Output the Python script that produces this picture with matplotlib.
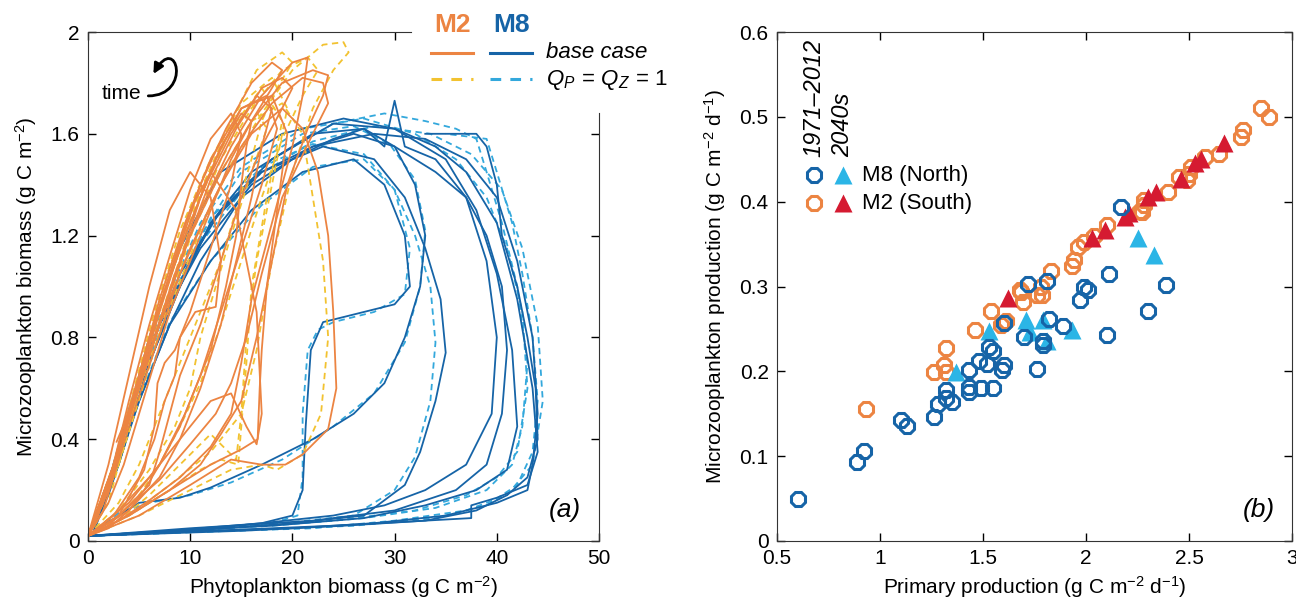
import matplotlib
matplotlib.use("Agg")
import matplotlib.pyplot as plt
from matplotlib.lines import Line2D
from matplotlib.patches import FancyArrowPatch
from matplotlib.path import Path

plt.rcParams['font.family'] = ['Liberation Sans', 'DejaVu Sans']
plt.rcParams['mathtext.fontset'] = 'custom'
plt.rcParams['mathtext.rm'] = 'Liberation Sans'
plt.rcParams['mathtext.it'] = 'Liberation Sans:italic'

# ---- panel (a): phyto vs microzoo biomass trajectories (one list per year) ----
m8_base_x = [
    [0, 5, 12, 20, 28, 35, 40, 43, 43.5, 44, 43.5, 42, 40, 37, 33, 28, 22, 16, 11, 7, 4, 1.5, 0],
    [0, 8, 18, 27, 33, 38, 41, 42, 41.5, 40, 38, 35, 30, 24, 18, 13, 9, 6, 3, 0.5],
    [0, 6, 12, 17, 20, 21, 21.3, 21.8, 23, 27, 30, 31.5, 31, 29, 26, 21, 16, 12, 8, 5, 2, 0],
    [0, 10, 20, 27, 31, 32.5, 34, 35, 34.5, 33, 31, 28, 23, 17, 12, 9, 6, 3, 0.5],
    [0, 3, 5, 9, 12, 17, 22, 26, 29, 31, 32.5, 33, 32, 30, 27, 22, 16, 12, 9, 6, 3, 0],
    [0, 12, 24, 33, 38, 41, 43, 44, 43.8, 43, 42, 40.5, 40, 39, 38, 33],
    [0, 15, 25, 33, 37.5, 37.5, 40, 43, 44, 43.5, 42, 40, 37, 34, 30, 25, 19, 13, 9, 6, 3, 0],
    [0, 10, 22, 30, 36, 39, 40.5, 41, 40.5, 39, 37, 34, 30, 26, 22, 17, 13, 10, 7, 4, 1, 0],
    [0, 8, 17, 24, 29, 33, 37, 39.5, 40, 39, 37, 34, 31, 30, 29, 27, 24, 20, 15, 11, 8, 5, 2, 0],
]
m8_base_y = [
    [0.02, 0.03, 0.04, 0.05, 0.07, 0.1, 0.15, 0.2, 0.3, 0.5, 0.8, 1.1, 1.35, 1.5, 1.58, 1.6, 1.55, 1.4, 1.15, 0.85, 0.5, 0.15, 0.02],
    [0.02, 0.04, 0.06, 0.09, 0.14, 0.2, 0.28, 0.45, 0.75, 1.05, 1.3, 1.5, 1.62, 1.64, 1.5, 1.3, 1.05, 0.75, 0.35, 0.03],
    [0.02, 0.03, 0.05, 0.07, 0.1, 0.2, 0.45, 0.75, 0.86, 0.9, 0.93, 1.0, 1.2, 1.4, 1.5, 1.45, 1.3, 1.1, 0.85, 0.55, 0.2, 0.02],
    [0.02, 0.04, 0.07, 0.1, 0.22, 0.35, 0.55, 0.74, 0.95, 1.15, 1.35, 1.5, 1.55, 1.45, 1.25, 1.0, 0.7, 0.3, 0.03],
    [0.02, 0.1, 0.15, 0.17, 0.21, 0.3, 0.4, 0.5, 0.62, 0.8, 1.0, 1.2, 1.4, 1.55, 1.62, 1.6, 1.45, 1.25, 1.0, 0.7, 0.3, 0.02],
    [0.02, 0.04, 0.06, 0.08, 0.12, 0.18, 0.25, 0.4, 0.6, 0.8, 1.0, 1.2, 1.4, 1.55, 1.6, 1.6],
    [0.02, 0.04, 0.06, 0.08, 0.09, 0.14, 0.17, 0.22, 0.35, 0.6, 0.95, 1.25, 1.45, 1.55, 1.62, 1.66, 1.6, 1.45, 1.15, 0.8, 0.35, 0.02],
    [0.02, 0.05, 0.08, 0.12, 0.2, 0.3, 0.5, 0.75, 1.0, 1.2, 1.35, 1.45, 1.55, 1.6, 1.55, 1.45, 1.3, 1.1, 0.85, 0.5, 0.1, 0.02],
    [0.02, 0.04, 0.07, 0.1, 0.14, 0.2, 0.3, 0.5, 0.8, 1.1, 1.35, 1.5, 1.55, 1.73, 1.55, 1.62, 1.58, 1.5, 1.35, 1.1, 0.85, 0.55, 0.18, 0.02],
]
m8_q_x = [
    [0, 6, 14, 22, 30, 37, 41, 43.5, 44.5, 44, 42.5, 40.5, 37.5, 33.5, 28, 22, 16, 11, 7, 4, 1.5, 0],
    [0, 7, 13, 18, 20.5, 21, 21, 21.5, 22.5, 24, 28, 31, 31.5, 30, 27, 22, 17, 12, 8, 5, 2, 0],
    [0, 10, 19, 26, 30, 32, 33.5, 34, 33.5, 32, 30, 27, 22, 17, 12, 9, 6, 3, 0.5],
    [0, 12, 24, 32, 37, 40, 42, 43, 42.5, 41, 39, 36, 32, 27, 21, 15, 11, 8, 5, 2, 0],
    [0, 9, 18, 27, 34, 39, 41.5, 42.5, 43, 42, 40.5, 39, 38, 36, 33, 29, 24, 18, 13, 9, 6, 3, 0],
    [0, 3, 6, 10, 14, 19, 24, 28, 31, 32.5, 33, 32, 29.5, 26, 21, 15, 11, 8, 5, 2, 0],
    [0, 14, 26, 34, 39, 42, 43.5, 44, 43.5, 42.5, 41.5, 40, 39, 35],
]
m8_q_y = [
    [0.02, 0.03, 0.04, 0.05, 0.08, 0.12, 0.18, 0.3, 0.55, 0.85, 1.15, 1.38, 1.52, 1.6, 1.63, 1.57, 1.42, 1.17, 0.88, 0.52, 0.16, 0.02],
    [0.02, 0.03, 0.05, 0.07, 0.1, 0.25, 0.5, 0.75, 0.83, 0.86, 0.9, 0.97, 1.15, 1.38, 1.5, 1.47, 1.32, 1.1, 0.86, 0.56, 0.2, 0.02],
    [0.02, 0.04, 0.07, 0.1, 0.2, 0.33, 0.55, 0.78, 1.0, 1.2, 1.38, 1.52, 1.56, 1.47, 1.27, 1.02, 0.72, 0.32, 0.03],
    [0.02, 0.05, 0.08, 0.12, 0.18, 0.25, 0.35, 0.6, 0.9, 1.15, 1.35, 1.5, 1.6, 1.66, 1.62, 1.47, 1.25, 0.98, 0.62, 0.2, 0.02],
    [0.02, 0.04, 0.06, 0.09, 0.13, 0.2, 0.3, 0.45, 0.7, 1.0, 1.25, 1.45, 1.58, 1.62, 1.65, 1.68, 1.64, 1.5, 1.3, 1.05, 0.75, 0.32, 0.02],
    [0.02, 0.11, 0.15, 0.18, 0.23, 0.32, 0.45, 0.58, 0.78, 1.0, 1.22, 1.42, 1.56, 1.63, 1.6, 1.45, 1.2, 0.92, 0.58, 0.2, 0.02],
    [0.02, 0.04, 0.06, 0.09, 0.14, 0.22, 0.35, 0.55, 0.8, 1.05, 1.25, 1.45, 1.58, 1.6],
]
m2_base_x = [
    [0, 3, 6, 9, 12, 14, 15, 16, 18, 20, 21, 21.5, 20, 17, 14, 11, 8.5, 6.5, 4.5, 2.5, 0],
    [0, 4, 8, 11, 13, 15, 16.5, 18, 19.5, 21.5, 23, 23.5, 22, 19, 16, 13, 10, 7.5, 5, 3, 0],
    [0, 5, 10, 14, 17, 19.3, 21, 23.5, 24.3, 24, 23.5, 22.5, 21, 19, 16, 13, 10, 7, 4.5, 2, 0],
    [0, 4, 8, 12, 15, 16.6, 16.8, 17, 17.5, 18.5, 19.5, 18, 15, 12, 9.5, 7, 5, 3, 0],
    [0, 3, 6, 8, 10, 12, 14, 15.5, 16.5, 17, 16.5, 14.5, 12, 10, 8, 6, 4, 2, 0],
    [0, 2.5, 5, 6.5, 7.5, 8.5, 9, 10.5, 12.5, 13, 12, 10, 8, 6, 4, 2, 0],
    [0, 2, 4, 6, 7, 8, 9, 11, 13, 15, 17, 19, 20, 19, 17, 14.5, 12, 9.5, 7, 5, 2.8],
    [0, 3, 7, 10, 12.5, 14, 15.5, 17, 19, 22, 23.5, 23, 21, 18, 15, 12, 9, 6.5, 4, 1.5, 0],
    [0, 4, 7, 9, 11, 13, 14.5, 16, 17, 18, 16.5, 14, 11.5, 9, 7, 5, 3, 0],
    [0, 3, 5.5, 6.5, 6.8, 7.5, 8.5, 10, 12, 14, 15, 14, 12, 10, 8, 6, 4, 2, 0],
    [0, 2, 3.5, 5, 6.5, 8, 10, 12, 14, 16, 18, 19, 18, 16, 13.5, 11, 8.5, 6, 4, 2, 0],
    [0, 4, 7, 9.5, 12, 13.5, 14.5, 15, 15.5, 16, 15, 13, 11, 9, 7, 5, 3, 1, 0],
    [0, 2, 4, 5.5, 7, 9, 11, 13, 15, 17, 18.5, 17.5, 15, 12.5, 10, 7.5, 5.5, 3.5, 1.5, 0],
]
m2_base_y = [
    [0.02, 0.08, 0.16, 0.25, 0.37, 0.5, 0.7, 0.95, 1.25, 1.55, 1.75, 1.9, 1.88, 1.75, 1.55, 1.3, 1.05, 0.8, 0.55, 0.3, 0.02],
    [0.02, 0.1, 0.2, 0.3, 0.42, 0.55, 0.8, 1.1, 1.4, 1.62, 1.75, 1.83, 1.85, 1.8, 1.65, 1.45, 1.2, 0.92, 0.62, 0.35, 0.02],
    [0.02, 0.1, 0.22, 0.32, 0.3, 0.3, 0.34, 0.44, 0.6, 0.9, 1.2, 1.45, 1.62, 1.7, 1.6, 1.4, 1.15, 0.85, 0.55, 0.2, 0.02],
    [0.02, 0.1, 0.2, 0.3, 0.36, 0.4, 0.6, 0.75, 1.0, 1.3, 1.6, 1.75, 1.7, 1.5, 1.25, 0.95, 0.65, 0.35, 0.02],
    [0.02, 0.12, 0.25, 0.35, 0.45, 0.55, 0.58, 0.45, 0.38, 0.5, 0.9, 1.3, 1.45, 1.3, 1.05, 0.8, 0.5, 0.2, 0.02],
    [0.02, 0.1, 0.25, 0.4, 0.55, 0.65, 0.8, 0.9, 0.92, 1.1, 1.35, 1.45, 1.3, 1.0, 0.65, 0.3, 0.02],
    [0.02, 0.06, 0.14, 0.22, 0.35, 0.5, 0.65, 0.85, 1.1, 1.35, 1.55, 1.7, 1.78, 1.82, 1.78, 1.62, 1.42, 1.15, 0.85, 0.6, 0.39],
    [0.02, 0.1, 0.24, 0.38, 0.5, 0.62, 0.8, 1.05, 1.35, 1.6, 1.72, 1.8, 1.82, 1.72, 1.55, 1.32, 1.05, 0.75, 0.45, 0.12, 0.02],
    [0.02, 0.12, 0.25, 0.4, 0.6, 0.85, 1.1, 1.35, 1.55, 1.7, 1.75, 1.6, 1.4, 1.15, 0.9, 0.62, 0.35, 0.02],
    [0.02, 0.1, 0.28, 0.45, 0.62, 0.7, 0.75, 0.9, 1.15, 1.4, 1.6, 1.68, 1.58, 1.38, 1.12, 0.85, 0.55, 0.22, 0.02],
    [0.02, 0.15, 0.3, 0.5, 0.7, 0.9, 1.1, 1.3, 1.5, 1.65, 1.78, 1.85, 1.88, 1.8, 1.62, 1.4, 1.1, 0.78, 0.48, 0.2, 0.02],
    [0.02, 0.15, 0.3, 0.5, 0.75, 1.0, 1.2, 1.4, 1.55, 1.65, 1.68, 1.55, 1.35, 1.1, 0.85, 0.6, 0.35, 0.1, 0.02],
    [0.02, 0.05, 0.12, 0.2, 0.3, 0.45, 0.65, 0.9, 1.15, 1.4, 1.62, 1.75, 1.7, 1.5, 1.25, 0.98, 0.72, 0.45, 0.15, 0.02],
]
m2_q_x = [
    [0, 4, 8, 12, 15, 16.5, 18, 20, 22, 24, 25.5, 25, 23, 20, 17, 14, 11, 8, 5, 2.5, 0],
    [0, 5, 10, 14, 17, 18.5, 21, 22.8, 23.5, 23, 22, 21, 19, 16, 13, 10, 7.5, 5, 2.5, 0],
    [0, 3, 6, 9, 12, 14.5, 15, 15.5, 16.5, 18, 19.5, 18, 15, 12, 9, 6.5, 4, 1.5, 0],
    [0, 2.5, 5, 7, 9, 11, 13, 15, 17, 19, 21, 22.5, 21.5, 19, 16, 13, 10.5, 8, 5.5, 3, 0],
    [0, 3, 6, 8.5, 10, 11, 12.5, 14, 16, 17.5, 16, 13.5, 11, 8.5, 6, 4, 2, 0],
    [0, 4, 8, 11, 13, 14.7, 15, 15.5, 16, 17.5, 19, 17, 14, 11, 8, 5.5, 3, 0],
    [0, 3, 5, 7, 9, 11, 13, 14.5, 16, 17, 18.5, 20, 19, 16.5, 14, 11.5, 9, 6.5, 4, 2, 0],
]
m2_q_y = [
    [0.02, 0.1, 0.22, 0.35, 0.5, 0.75, 1.1, 1.45, 1.7, 1.85, 1.92, 1.96, 1.95, 1.85, 1.68, 1.48, 1.22, 0.92, 0.6, 0.3, 0.02],
    [0.02, 0.1, 0.2, 0.28, 0.3, 0.28, 0.34, 0.5, 0.8, 1.1, 1.35, 1.6, 1.72, 1.65, 1.45, 1.2, 0.92, 0.6, 0.25, 0.02],
    [0.02, 0.08, 0.18, 0.3, 0.42, 0.32, 0.5, 0.8, 1.1, 1.4, 1.7, 1.82, 1.72, 1.5, 1.22, 0.9, 0.52, 0.15, 0.02],
    [0.02, 0.08, 0.18, 0.3, 0.45, 0.62, 0.85, 1.1, 1.35, 1.58, 1.75, 1.85, 1.9, 1.85, 1.7, 1.5, 1.25, 0.95, 0.62, 0.3, 0.02],
    [0.02, 0.12, 0.28, 0.45, 0.6, 0.8, 1.0, 1.2, 1.45, 1.62, 1.72, 1.58, 1.35, 1.05, 0.75, 0.45, 0.15, 0.02],
    [0.02, 0.1, 0.2, 0.28, 0.32, 0.3, 0.45, 0.7, 1.0, 1.35, 1.65, 1.78, 1.62, 1.38, 1.08, 0.72, 0.35, 0.02],
    [0.02, 0.15, 0.3, 0.5, 0.7, 0.9, 1.1, 1.3, 1.5, 1.65, 1.78, 1.88, 1.92, 1.85, 1.65, 1.42, 1.15, 0.85, 0.52, 0.22, 0.02],
]

# ---- panel (b): annual primary production vs microzooplankton production ----
m8_pp = [0.60, 0.89, 0.92, 1.10, 1.13, 1.26, 1.28, 1.32, 1.32, 1.35, 1.43, 1.43, 1.43, 1.48, 1.49,
         1.52, 1.53, 1.55, 1.55, 1.59, 1.60, 1.60, 1.70, 1.76, 1.79, 1.79, 1.82, 1.89, 1.97, 1.99,
         2.01, 2.10, 2.30, 2.39, 1.72, 1.81, 2.11, 2.17]
m8_mzp = [0.050, 0.093, 0.106, 0.143, 0.136, 0.146, 0.162, 0.178, 0.169, 0.164, 0.202, 0.182, 0.176, 0.212, 0.180,
          0.209, 0.229, 0.224, 0.180, 0.201, 0.207, 0.257, 0.241, 0.203, 0.236, 0.231, 0.262, 0.253, 0.284, 0.300,
          0.296, 0.243, 0.271, 0.302, 0.303, 0.306, 0.315, 0.394]
m2_pp = [0.93, 1.26, 1.31, 1.32, 1.32, 1.46, 1.54, 1.585, 1.61, 1.685, 1.695, 1.76, 1.786, 1.68, 1.78,
         1.83, 1.93, 1.94, 1.96, 1.99, 2.04, 2.10, 2.26, 2.27, 2.28, 2.28, 2.40, 2.45, 2.49, 2.50,
         2.51, 2.58, 2.645, 2.75, 2.76, 2.85, 2.89]
m2_mzp = [0.156, 0.199, 0.207, 0.227, 0.199, 0.249, 0.271, 0.255, 0.259, 0.294, 0.282, 0.290, 0.290, 0.296, 0.300,
          0.318, 0.324, 0.331, 0.347, 0.352, 0.360, 0.372, 0.389, 0.388, 0.396, 0.402, 0.411, 0.429, 0.425, 0.433,
          0.441, 0.453, 0.456, 0.476, 0.485, 0.510, 0.500]
m8_fut_pp = [1.37, 1.53, 1.71, 1.73, 1.79, 1.81, 1.93, 2.25, 2.33]
m8_fut_mzp = [0.199, 0.247, 0.261, 0.246, 0.261, 0.236, 0.249, 0.357, 0.337]
m2_fut_pp = [1.62, 2.03, 2.09, 2.19, 2.21, 2.30, 2.34, 2.46, 2.53, 2.56, 2.67]
m2_fut_mzp = [0.286, 0.357, 0.367, 0.382, 0.387, 0.406, 0.411, 0.427, 0.445, 0.450, 0.469]

c_orange = '#ec8442'
c_blue = '#1664a7'
c_yellow = '#f2c230'
c_lblue = '#33a8dc'
c_cyan = '#2bb5e6'
c_red = '#d51a31'

fig = plt.figure(figsize=(12.96, 6.06), dpi=100)
ax1 = fig.add_axes([88 / 1296, 65 / 606, 511 / 1296, 509 / 606])
ax2 = fig.add_axes([777 / 1296, 65 / 606, 515 / 1296, 509 / 606])

dash = (3.5, 2.5)
for xs, ys in zip(m8_q_x, m8_q_y):
    ax1.plot(xs, ys, color=c_lblue, lw=1.3, dashes=dash)
for xs, ys in zip(m8_base_x, m8_base_y):
    ax1.plot(xs, ys, color=c_blue, lw=1.3)
for xs, ys in zip(m2_q_x, m2_q_y):
    ax1.plot(xs, ys, color=c_yellow, lw=1.3, dashes=dash)
for xs, ys in zip(m2_base_x, m2_base_y):
    ax1.plot(xs, ys, color=c_orange, lw=1.3)

ax1.set_xlim(0, 50)
ax1.set_ylim(0, 2)
ax1.set_xticks([0, 10, 20, 30, 40, 50])
ax1.set_yticks([0, 0.4, 0.8, 1.2, 1.6, 2])
ax1.set_yticklabels(['0', '0.4', '0.8', '1.2', '1.6', '2'])
ax1.tick_params(direction='in', top=True, right=True, labelsize=15, length=6, width=1, pad=6)
ax1.spines['top'].set_bounds(0, 31.6)
ax1.spines['right'].set_bounds(0, 1.68)
for t in ax1.xaxis.get_major_ticks()[4:]:
    t.tick2line.set_visible(False)
ax1.yaxis.get_major_ticks()[-1].tick2line.set_visible(False)
for s in ax1.spines.values():
    s.set_color('#333333')
ax1.set_xlabel('Phytoplankton biomass (g C m$^{-2}$)', fontsize=15, labelpad=4)
ax1.set_ylabel('Microzooplankton biomass (g C m$^{-2}$)', fontsize=15, labelpad=8)
ax1.text(46.7, 0.12, '(a)', style='italic', fontsize=19, ha='center', va='center')

# time arrow
ax1.text(3.3, 1.76, 'time', fontsize=15, ha='center', va='center')
arrow_path = Path([(5.9, 1.749), (10.2, 1.749), (8.7, 2.0), (6.4, 1.835)],
                  [Path.MOVETO, Path.CURVE4, Path.CURVE4, Path.CURVE4])
ax1.add_patch(FancyArrowPatch(path=arrow_path, arrowstyle='-|>', mutation_scale=15,
                              lw=2, color='black'))

# legend of panel (a)
fig.text(452 / 1296, 1 - 25 / 606, 'M2', color=c_orange, fontsize=19, fontweight='bold', ha='center', va='center')
fig.text(512 / 1296, 1 - 25 / 606, 'M8', color=c_blue, fontsize=19, fontweight='bold', ha='center', va='center')
fig.add_artist(Line2D([431 / 1296, 473 / 1296], [1 - 53 / 606] * 2, color=c_orange, lw=2.2))
fig.add_artist(Line2D([490 / 1296, 532 / 1296], [1 - 53 / 606] * 2, color=c_blue, lw=2.2))
fig.add_artist(Line2D([431 / 1296, 473 / 1296], [1 - 79 / 606] * 2, color=c_yellow, lw=2.2, dashes=(3.5, 3)))
fig.add_artist(Line2D([490 / 1296, 532 / 1296], [1 - 79 / 606] * 2, color=c_lblue, lw=2.2, dashes=(3.5, 3)))
fig.text(546 / 1296, 1 - 53 / 606, 'base case', style='italic', fontsize=16, ha='left', va='center')
fig.text(546 / 1296, 1 - 80 / 606, r'$Q_P\,=\,Q_Z\,=\,\mathit{1}$', fontsize=16, ha='left', va='center')

# panel (b)
mk = dict(linestyle='none', clip_on=False)
ax2.plot(m2_pp, m2_mzp, marker='8', ms=11.5, mfc='none', mec=c_orange, mew=2.2, **mk)
ax2.plot(m2_fut_pp, m2_fut_mzp, marker='^', ms=13, color=c_red, mec='none', **mk)
ax2.plot(m8_fut_pp, m8_fut_mzp, marker='^', ms=13, color=c_cyan, mec='none', **mk)
ax2.plot(m8_pp, m8_mzp, marker='8', ms=11.5, mfc='none', mec=c_blue, mew=2.2, **mk)

ax2.set_xlim(0.5, 3)
ax2.set_ylim(0, 0.6)
ax2.set_xticks([0.5, 1, 1.5, 2, 2.5, 3])
ax2.set_xticklabels(['0.5', '1', '1.5', '2', '2.5', '3'])
ax2.set_yticks([0, 0.1, 0.2, 0.3, 0.4, 0.5, 0.6])
ax2.set_yticklabels(['0', '0.1', '0.2', '0.3', '0.4', '0.5', '0.6'])
ax2.tick_params(direction='in', top=True, right=True, labelsize=15, length=6, width=1, pad=6)
for s in ax2.spines.values():
    s.set_color('#333333')
ax2.set_xlabel('Primary production (g C m$^{-2}$ d$^{-1}$)', fontsize=15, labelpad=4)
ax2.set_ylabel('Microzooplankton production (g C m$^{-2}$ d$^{-1}$)', fontsize=15, labelpad=8)
ax2.text(2.84, 0.037, '(b)', style='italic', fontsize=19, ha='center', va='center')

# legend of panel (b)
ax2.text(0.072, 0.754, '1971\u20132012', rotation=90, style='italic', fontsize=17,
         ha='center', va='bottom', transform=ax2.transAxes)
ax2.text(0.128, 0.754, '2040s', rotation=90, style='italic', fontsize=17,
         ha='center', va='bottom', transform=ax2.transAxes)
ax2.plot([0.072], [0.719], marker='8', ms=11.5, mfc='none', mec=c_blue, mew=2.2, transform=ax2.transAxes)
ax2.plot([0.128], [0.719], marker='^', ms=13, color=c_cyan, mec='none', transform=ax2.transAxes)
ax2.plot([0.072], [0.664], marker='8', ms=11.5, mfc='none', mec=c_orange, mew=2.2, transform=ax2.transAxes)
ax2.plot([0.128], [0.664], marker='^', ms=13, color=c_red, mec='none', transform=ax2.transAxes)
ax2.text(0.165, 0.719, 'M8 (North)', fontsize=16, ha='left', va='center', transform=ax2.transAxes)
ax2.text(0.165, 0.664, 'M2 (South)', fontsize=16, ha='left', va='center', transform=ax2.transAxes)

fig.savefig('out.png', dpi=100)
